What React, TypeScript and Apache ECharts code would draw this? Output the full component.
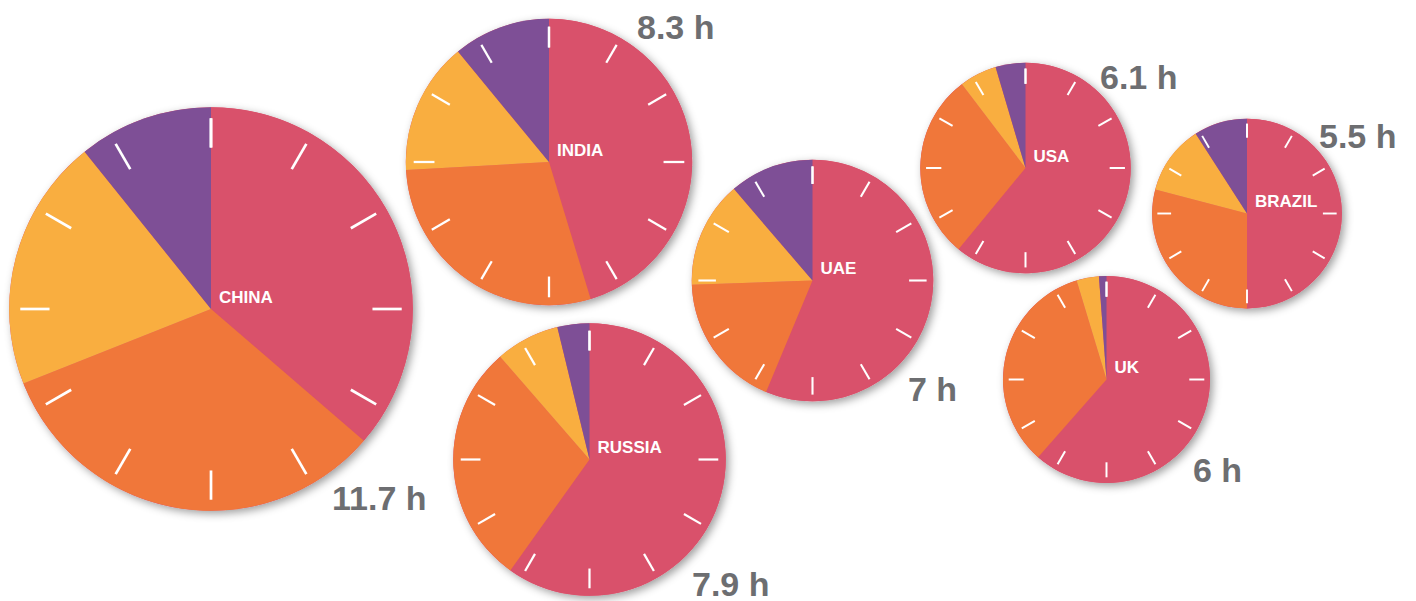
import React, { useEffect, useRef } from "react";
import * as echarts from "echarts";

// ---- data ----
const countries = ["CHINA", "INDIA", "UAE", "RUSSIA", "USA", "BRAZIL", "UK"];
const hours = [11.7, 8.3, 7, 7.9, 6.1, 5.5, 6];
const segmentNames = ["Segment 1", "Segment 2", "Segment 3", "Segment 4"];
const china = [4.25, 3.82, 2.37, 1.26];
const india = [3.76, 2.39, 1.24, 0.91];
const uae = [3.94, 1.27, 1.0, 0.79];
const russia = [4.73, 2.27, 0.6, 0.3];
const usa = [3.72, 1.75, 0.35, 0.28];
const brazil = [2.75, 1.6, 0.65, 0.5];
const uk = [3.69, 2.03, 0.21, 0.07];
const seriesValues = [china, india, uae, russia, usa, brazil, uk];

// ---- layout (positions / sizes) ----
const centers: [number, number][] = [
  [211, 309],
  [549, 162],
  [812.5, 280.5],
  [589.5, 459.5],
  [1025.5, 168],
  [1247, 213.5],
  [1106.5, 379.5],
];
const hourLabelPos: [number, number][] = [
  [332, 498],
  [637, 27],
  [908, 388.5],
  [692, 583.5],
  [1100, 76.5],
  [1319, 136],
  [1193, 470],
];
const pxPerHour = 17.25;
const colors = ["#d9516b", "#f0773a", "#f9ae40", "#7e4f96"];
const FONT = "'Liberation Sans', Arial, Helvetica, sans-serif";

export default function App() {
  const ref = useRef<HTMLDivElement>(null);
  useEffect(() => {
    if (!ref.current) return;
    const chart = echarts.init(ref.current, null, { renderer: "svg" });
    const series: any[] = [];
    const graphics: any[] = [];
    countries.forEach((name, i) => {
      const r = hours[i] * pxPerHour;
      const c = centers[i];
      // shadow base
      series.push({
        type: "pie",
        center: c,
        radius: r,
        z: 1,
        silent: true,
        label: { show: false },
        labelLine: { show: false },
        emphasis: { disabled: true },
        data: [{ value: 1, name: name + " base" }],
        itemStyle: {
          color: colors[0],
          shadowBlur: 8,
          shadowOffsetX: 3,
          shadowOffsetY: 3,
          shadowColor: "rgba(0,0,0,0.38)",
        },
      });
      series.push({
        type: "pie",
        name,
        center: c,
        radius: r,
        z: 2,
        startAngle: 90,
        clockwise: true,
        silent: true,
        label: { show: false },
        labelLine: { show: false },
        emphasis: { disabled: true },
        itemStyle: { borderWidth: 0 },
        data: seriesValues[i].map((v, k) => ({
          value: v,
          name: segmentNames[k],
          itemStyle: { color: colors[k] },
        })),
      });
      series.push({
        type: "gauge",
        center: c,
        radius: r,
        z: 3,
        silent: true,
        startAngle: 90,
        endAngle: -270,
        min: 0,
        max: 12,
        splitNumber: 12,
        axisLine: { show: false, lineStyle: { width: 0 } },
        axisTick: { show: false },
        axisLabel: { show: false },
        pointer: { show: false },
        anchor: { show: false },
        progress: { show: false },
        title: { show: false },
        detail: { show: false },
        splitLine: {
          show: true,
          distance: r * 0.055,
          length: r * 0.145,
          lineStyle: { color: "#ffffff", width: 1.2 + r * 0.0075, cap: "butt" },
        },
        data: [{ value: 0 }],
      });
      graphics.push({
        type: "text",
        z: 100,
        x: c[0] + 8,
        y: c[1] - 12,
        silent: true,
        style: {
          text: name,
          fill: "#ffffff",
          font: `bold 17px ${FONT}`,
          textAlign: "left",
          textVerticalAlign: "middle",
        },
      });
      graphics.push({
        type: "text",
        z: 100,
        x: hourLabelPos[i][0],
        y: hourLabelPos[i][1],
        silent: true,
        style: {
          text: `${hours[i]} h`,
          fill: "#6d6e71",
          font: `bold 34px ${FONT}`,
          textAlign: "left",
          textVerticalAlign: "middle",
        },
      });
    });
    chart.setOption({
      animation: false,
      backgroundColor: "#ffffff",
      series,
      graphic: graphics,
    });
    return () => chart.dispose();
  }, []);
  return (
    <div
      ref={ref}
      style={{ position: "fixed", left: 0, top: 0, width: 1416, height: 601 }}
    />
  );
}
